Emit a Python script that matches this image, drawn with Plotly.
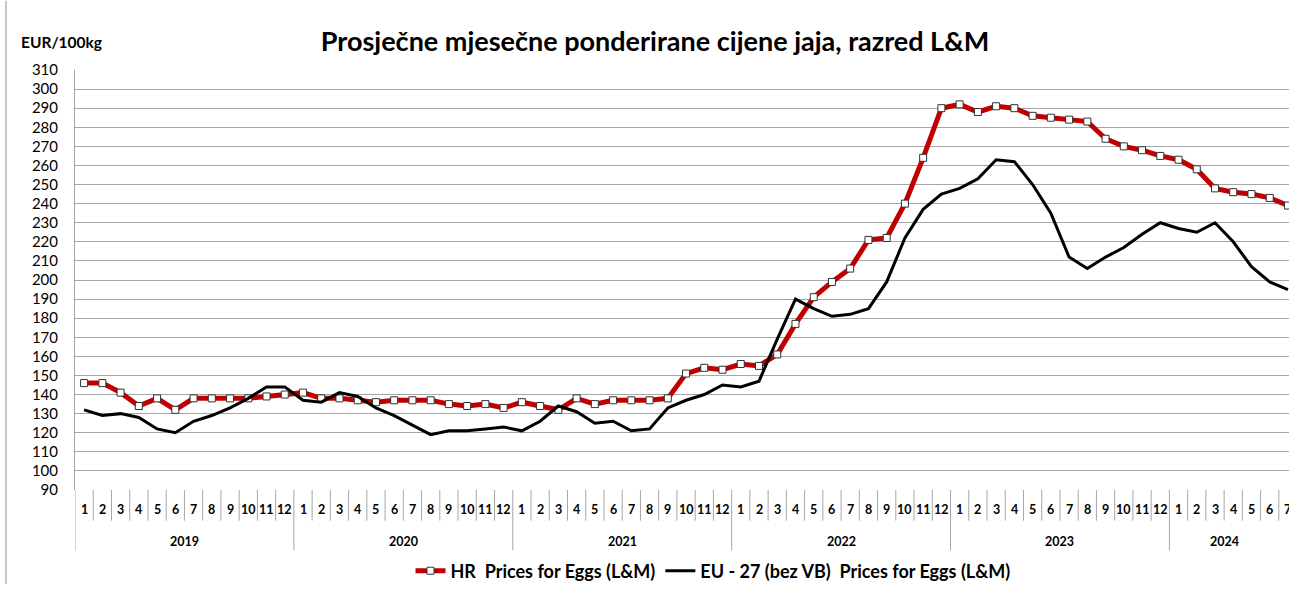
import plotly.graph_objects as go

# ---------------- data ----------------
years = ["2019", "2020", "2021", "2022", "2023", "2024"]
months_per_year = [12, 12, 12, 12, 12, 7]
month_labels = [str(m) for n in months_per_year for m in range(1, n + 1)]

hr_prices = [
    146, 146, 141, 134, 138, 132, 138, 138, 138, 138, 139, 140,   # 2019
    141, 138, 138, 137, 136, 137, 137, 137, 135, 134, 135, 133,   # 2020
    136, 134, 132, 138, 135, 137, 137, 137, 138, 151, 154, 153,   # 2021
    156, 155, 161, 177, 191, 199, 206, 221, 222, 240, 264, 290,   # 2022
    292, 288, 291, 290, 286, 285, 284, 283, 274, 270, 268, 265,   # 2023
    263, 258, 248, 246, 245, 243, 239,                            # 2024
]
eu_prices = [
    132, 129, 130, 128, 122, 120, 126, 129, 133, 138, 144, 144,   # 2019
    137, 136, 141, 139, 133, 129, 124, 119, 121, 121, 122, 123,   # 2020
    121, 126, 134, 131, 125, 126, 121, 122, 133, 137, 140, 145,   # 2021
    144, 147, 169, 190, 185, 181, 182, 185, 199, 222, 237, 245,   # 2022
    248, 253, 263, 262, 250, 235, 212, 206, 212, 217, 224, 230,   # 2023
    227, 225, 230, 220, 207, 199, 195,                            # 2024
]
y_ticks = list(range(90, 320, 10))

hr_name = "HR\u00a0 Prices for Eggs (L&M)"
eu_name = "EU - 27 (bez VB)\u00a0 Prices for Eggs (L&M)"
title_text = "Prosječne mjesečne ponderirane cijene jaja, razred L&M"
unit_text = "EUR/100kg"

# ---------------- layout constants ----------------
W, H = 1289, 590
ML, MR, MT, MB = 75, 0, 70, 95
PW, PH = W - ML - MR, H - MT - MB
MONTH_W = 18.24
FONT = "Lato"
GRID = "#a6a6a6"

x_idx = list(range(len(month_labels)))


def py(px_y):
    """pixel y (from top) -> paper y"""
    return (H - MB - px_y) / PH


def px_(px_x):
    return (px_x - ML) / PW


fig = go.Figure()
fig.add_trace(go.Scatter(
    x=x_idx, y=hr_prices, name=hr_name, mode="lines+markers",
    line=dict(color="#C00000", width=5),
    marker=dict(symbol="square", size=7, color="white",
                line=dict(color="#333333", width=1)),
    cliponaxis=True,
))
fig.add_trace(go.Scatter(
    x=x_idx, y=eu_prices, name=eu_name, mode="lines",
    line=dict(color="black", width=3),
    cliponaxis=True,
))

shapes = []
annotations = []

# month dividers and labels
year_starts = []
pos = 0
for n in months_per_year:
    year_starts.append(pos)
    pos += n
for i in range(len(month_labels) + 1):
    xb = i - 0.5
    is_year = i in year_starts
    shapes.append(dict(
        type="line", xref="x", yref="paper", x0=xb, x1=xb,
        y0=0, y1=py(556 if is_year else 526),
        line=dict(color=GRID, width=1),
    ))
for i, lab in enumerate(month_labels):
    annotations.append(dict(
        x=i, y=py(515), xref="x", yref="paper", text=lab, showarrow=False,
        font=dict(family=FONT, size=12.5, color="black", weight="bold"),
        xanchor="center", yanchor="middle",
    ))
for yr, start, n in zip(years, year_starts, months_per_year):
    center = start + 5.5 if n == 12 else start + (n - 2) / 2
    annotations.append(dict(
        x=center, y=py(547), xref="x", yref="paper", text=yr, showarrow=False,
        font=dict(family=FONT, size=12.5, color="black", weight="bold"),
        xanchor="center", yanchor="middle",
    ))

# unit label
annotations.append(dict(
    x=px_(19), y=py(42), xref="paper", yref="paper", text=unit_text,
    showarrow=False, xanchor="left", yanchor="middle",
    font=dict(family=FONT, size=15.5, color="black", weight="bold"),
))

# left border of the chart area
shapes.append(dict(
    type="line", xref="paper", yref="paper", x0=px_(6), x1=px_(6),
    y0=py(H), y1=py(0), line=dict(color="#8c8c8c", width=1),
))

fig.update_layout(
    width=W, height=H,
    margin=dict(l=ML, r=MR, t=MT, b=MB, pad=0),
    paper_bgcolor="white", plot_bgcolor="white",
    title=dict(
        text=title_text, x=655 / W, xanchor="center", y=1 - 42 / H,
        yanchor="middle",
        font=dict(family=FONT, size=27, color="black", weight="bold"),
    ),
    xaxis=dict(
        range=[-0.5, -0.5 + PW / MONTH_W], showgrid=False, zeroline=False,
        showticklabels=False, showline=False, ticks="",
    ),
    yaxis=dict(
        range=[90, 310], tickvals=y_ticks, ticktext=[str(v) for v in y_ticks],
        showgrid=True, gridcolor=GRID, gridwidth=1, zeroline=False,
        showline=True, linecolor=GRID, linewidth=1, ticks="",
        ticklabelstandoff=13,
        tickfont=dict(family=FONT, size=15, color="black"),
    ),
    legend=dict(
        orientation="h", x=px_(713), xanchor="center", y=py(577),
        yanchor="middle", itemwidth=30,
        font=dict(family=FONT, size=18, color="black", weight="bold"),
        bgcolor="rgba(0,0,0,0)",
    ),
    shapes=shapes,
    annotations=annotations,
    font=dict(family=FONT),
)

fig.write_html(
    "out.html",
    config={"displayModeBar": False},
    post_script="document.body.style.margin='0px';document.body.style.padding='0px';",
)
